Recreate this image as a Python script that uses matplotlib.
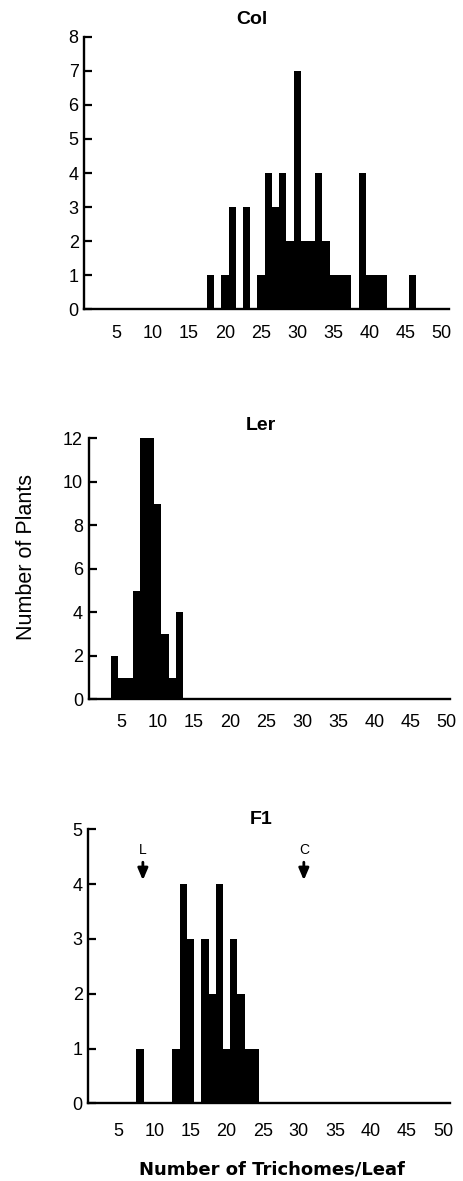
import matplotlib
matplotlib.use("Agg")
import matplotlib.pyplot as plt

plt.rcParams['font.family'] = ['Liberation Sans', 'DejaVu Sans']

# ---- data ----
col_x = [18, 20, 21, 23, 25, 26, 27, 28, 29, 30, 31, 32, 33, 34, 35, 36, 37, 39, 40, 41, 42, 46]
col_n = [1, 1, 3, 3, 1, 4, 3, 4, 2, 7, 2, 2, 4, 2, 1, 1, 1, 4, 1, 1, 1, 1]

ler_x = [4, 5, 6, 7, 8, 9, 10, 11, 12, 13]
ler_n = [2, 1, 1, 5, 12, 12, 9, 3, 1, 4]

f1_x = [8, 13, 14, 15, 17, 18, 19, 20, 21, 22, 23, 24]
f1_n = [1, 1, 4, 3, 3, 2, 4, 1, 3, 2, 1, 1]

f1_markers = ['L', 'C']
f1_marker_x = [8.4, 30.7]

xticks = [5, 10, 15, 20, 25, 30, 35, 40, 45, 50]
titles = ['Col', 'Ler', 'F1']

W, H = 464, 1181
fig = plt.figure(figsize=(W / 100, H / 100), dpi=100)


def add_ax(left, right, top, bottom):
    return fig.add_axes([left / W, 1 - bottom / H, (right - left) / W, (bottom - top) / H])


def style(ax, xlim, ylim, yticks, xpad):
    ax.set_xlim(*xlim)
    ax.set_ylim(*ylim)
    ax.set_xticks(xticks)
    ax.set_yticks(yticks)
    for s in ['top', 'right']:
        ax.spines[s].set_visible(False)
    for s in ['left', 'bottom']:
        ax.spines[s].set_linewidth(1.7)
    ax.tick_params(axis='y', direction='in', length=6, width=1.6, pad=4, labelsize=13)
    ax.tick_params(axis='x', length=0, pad=xpad, labelsize=13)


# panel 1
ax1 = add_ax(84.2, 448.8, 36.7, 309.3)
ax1.bar(col_x, col_n, width=1, color='black', align='center')
style(ax1, (0.5, 51), (0, 8), range(0, 9), 11)
fig.text(252 / W, 1 - 19 / H, titles[0], ha='center', va='center', fontsize=14, fontweight='bold')

# panel 2
ax2 = add_ax(88.5, 450.2, 438.3, 699.3)
ax2.bar(ler_x, ler_n, width=1, color='black', align='center')
style(ax2, (0.4, 50.5), (0, 12), range(0, 13, 2), 10.5)
fig.text(261 / W, 1 - 425 / H, titles[1], ha='center', va='center', fontsize=14, fontweight='bold')
fig.text(27 / W, 1 - 557 / H, 'Number of Plants', rotation=90, ha='center', va='center', fontsize=15.5)

# panel 3
ax3 = add_ax(88.3, 450, 829.3, 1103.3)
ax3.bar(f1_x, f1_n, width=1, color='black', align='center')
style(ax3, (0.84, 50.95), (0, 5), range(0, 6), 14.5)
fig.text(261 / W, 1 - 820 / H, titles[2], ha='center', va='center', fontsize=14, fontweight='bold')
for lab, mx in zip(f1_markers, f1_marker_x):
    ax3.annotate('', xy=(mx, 4.02), xytext=(mx, 4.45),
                 arrowprops=dict(arrowstyle='-|>,head_length=0.7,head_width=0.3',
                                 color='black', lw=2))
    ax3.text(mx, 4.62, lab, ha='center', va='center', fontsize=10)
fig.text(272 / W, 1 - 1170 / H, 'Number of Trichomes/Leaf', ha='center', va='center',
         fontsize=13, fontweight='bold', family='DejaVu Sans')

fig.savefig('out.png', dpi=100)
